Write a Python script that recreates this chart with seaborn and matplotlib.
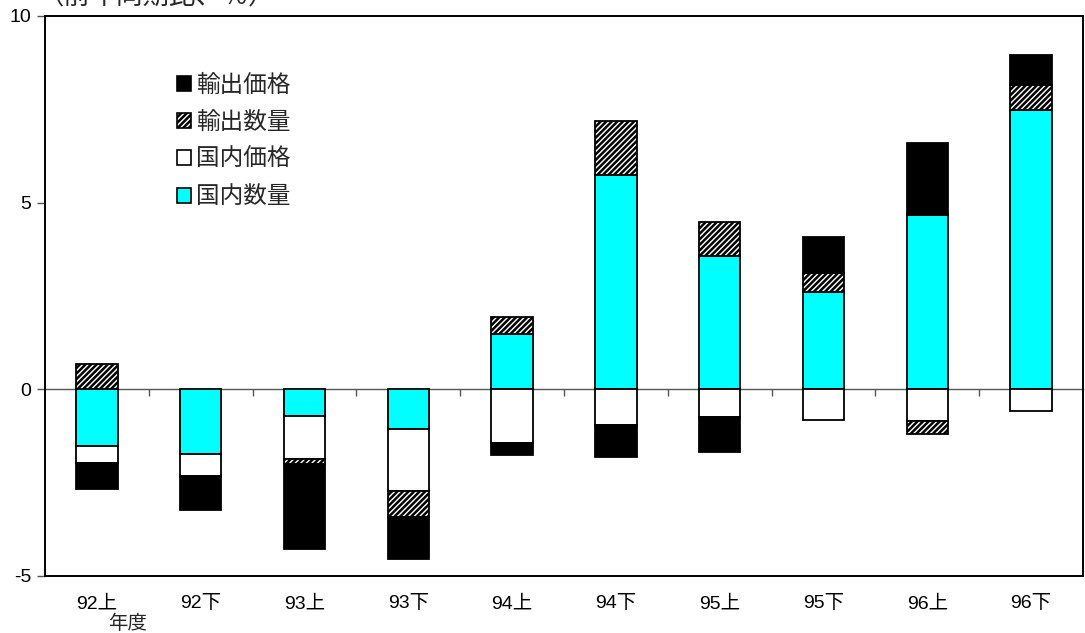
import numpy as np
import pandas as pd
import seaborn as sns
import matplotlib.pyplot as plt
from matplotlib.patches import Patch

# half-year periods (fiscal year)
periods = ["92上", "92下", "93上", "93下", "94上", "94下", "95上", "95下", "96上", "96下"]

# contributions, % change from same period of previous year
dom_qty = [-1.52, -1.74, -0.71, -1.05, 1.48, 5.75, 3.56, 2.60, 4.67, 7.47]      # 国内数量
dom_price = [-0.45, -0.57, -1.16, -1.66, -1.44, -0.95, -0.73, -0.82, -0.84, -0.59]  # 国内価格
exp_qty = [0.68, -0.03, -0.13, -0.70, 0.45, 1.45, 0.92, 0.51, -0.35, 0.69]     # 輸出数量
exp_price = [-0.69, -0.88, -2.27, -1.14, -0.31, -0.85, -0.94, 0.98, 1.93, 0.80]  # 輸出価格

series_names = ["国内数量", "国内価格", "輸出数量", "輸出価格"]
series_vals = [dom_qty, dom_price, exp_qty, exp_price]
styles = {
    "国内数量": dict(color="#00FFFF", hatch=None),
    "国内価格": dict(color="white", hatch=None),
    "輸出数量": dict(color="white", hatch="//////"),
    "輸出価格": dict(color="black", hatch=None),
}

sns.set_theme(style="white")
plt.rcParams["font.family"] = ["Liberation Sans", "Noto Sans CJK JP", "DejaVu Sans"]
plt.rcParams["axes.unicode_minus"] = False
plt.rcParams["hatch.linewidth"] = 1.8
plt.rcParams["hatch.color"] = "black"

fig = plt.figure(figsize=(10.85, 6.33), dpi=100)
ax = fig.add_axes([45 / 1085, 1 - 576 / 633, 1038 / 1085, 560 / 633])

pos_base = np.zeros(len(periods))
neg_base = np.zeros(len(periods))
for name, vals in zip(series_names, series_vals):
    vals = np.array(vals)
    bottom = np.where(vals >= 0, pos_base, neg_base)
    df = pd.DataFrame({"period": periods, "value": vals})
    sns.barplot(data=df, x="period", y="value", order=periods, bottom=bottom,
                width=0.4, color=styles[name]["color"], hatch=styles[name]["hatch"],
                edgecolor="black", linewidth=1.3, saturation=1, errorbar=None, ax=ax)
    pos_base = pos_base + np.where(vals >= 0, vals, 0)
    neg_base = neg_base + np.where(vals < 0, vals, 0)

ymin, ymax = -5, 10
ax.set_ylim(ymin, ymax)
ax.set_xlim(-0.5, len(periods) - 0.5)
ax.set_yticks([-5, 0, 5, 10])
ax.set_xlabel("")
ax.set_ylabel("")
ax.tick_params(axis="y", left=True, direction="out", length=6, width=1, color="#555555",
               labelsize=14, pad=4, labelcolor="black")
ax.tick_params(axis="x", bottom=False, labelsize=14, pad=8, labelcolor="black")
for sp in ax.spines.values():
    sp.set_color("black")
    sp.set_linewidth(1.4)

# zero line with tick marks between categories
zero_ax = ax.secondary_xaxis((0 - ymin) / (ymax - ymin))
zero_ax.set_xticks(np.arange(0.5, len(periods) - 1, 1.0))
zero_ax.tick_params(axis="x", direction="out", length=5, width=1, color="#555555",
                    labelbottom=False, labeltop=False, bottom=True, top=False)
zero_ax.spines["bottom"].set_color("#555555")
zero_ax.spines["bottom"].set_linewidth(1)

handles = [Patch(facecolor=styles[n]["color"], hatch=styles[n]["hatch"], edgecolor="black",
                 linewidth=1.2) for n in series_names[::-1]]
ax.legend(handles, series_names[::-1], loc="upper left", bbox_to_anchor=(0.118, 0.912),
          frameon=False, fontsize=17, handlelength=0.6, handleheight=0.6,
          handletextpad=0.2, labelspacing=0.64, borderaxespad=0)

fig.text(38 / 1085, 1 + 3 / 633, "（前年同期比、％）", fontsize=19, ha="left", va="center")
fig.text(108 / 1085, 1 - 624 / 633, "年度", fontsize=14, ha="left", va="center")

fig.savefig("out.png", dpi=100)
